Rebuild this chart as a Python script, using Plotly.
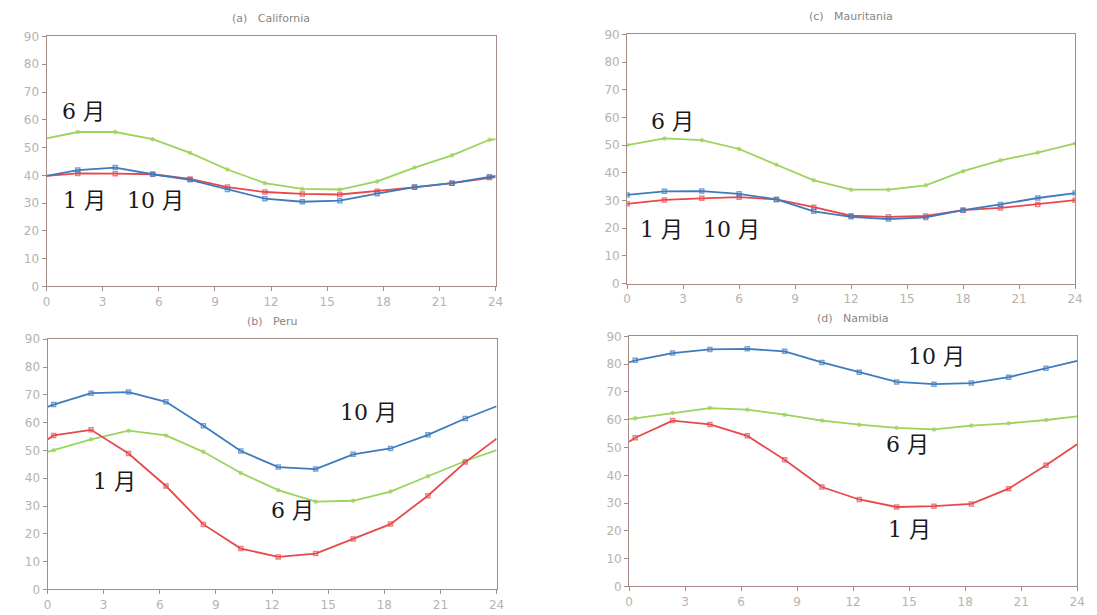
import plotly.graph_objects as go

# Hour positions (local time) of the samples in each region
hours_cal = [0, 1.67, 3.67, 5.67, 7.67, 9.67, 11.67, 13.67, 15.67, 17.67, 19.67, 21.67, 23.67, 24]
hours_mau = [0, 2, 4, 6, 8, 10, 12, 14, 16, 18, 20, 22, 24]
hours_sh = [0, 0.33, 2.33, 4.33, 6.33, 8.33, 10.33, 12.33, 14.33, 16.33, 18.33, 20.33, 22.33, 24]

# (a) California
cal_jan = [39.8, 40.7, 40.6, 40.4, 38.7, 35.8, 34.0, 33.3, 33.1, 34.3, 35.7, 37.2, 39.2, 39.4]
cal_jun = [53.3, 55.6, 55.6, 53.0, 48.1, 42.1, 37.2, 35.1, 34.9, 37.8, 42.8, 47.2, 52.8, 53.0]
cal_oct = [39.8, 41.9, 42.8, 40.4, 38.4, 34.9, 31.6, 30.5, 30.9, 33.4, 35.8, 37.2, 39.5, 39.8]

# (c) Mauritania
mau_jan = [28.8, 30.2, 30.8, 31.2, 30.4, 27.6, 24.5, 24.1, 24.4, 26.5, 27.3, 28.6, 30.1]
mau_jun = [50.0, 52.4, 51.8, 48.6, 42.9, 37.3, 33.9, 33.9, 35.5, 40.6, 44.5, 47.3, 50.6]
mau_oct = [32.0, 33.3, 33.4, 32.4, 30.4, 26.1, 24.1, 23.3, 23.9, 26.5, 28.6, 30.9, 32.7]

# (b) Peru
peru_jan = [53.9, 55.4, 57.4, 48.9, 37.2, 23.4, 14.7, 11.7, 12.9, 18.1, 23.5, 33.7, 45.8, 54.2]
peru_jun = [49.5, 50.1, 54.0, 57.1, 55.4, 49.5, 41.9, 35.7, 31.6, 31.9, 35.2, 40.7, 46.2, 50.1]
peru_oct = [65.7, 66.5, 70.6, 71.0, 67.5, 58.9, 49.8, 44.0, 43.3, 48.6, 50.7, 55.6, 61.5, 65.9]

# (d) Namibia
nam_jan = [52.1, 53.5, 59.7, 58.3, 54.2, 45.6, 35.8, 31.3, 28.6, 28.9, 29.7, 35.2, 43.6, 51.2]
nam_jun = [60.3, 60.5, 62.4, 64.2, 63.6, 61.8, 59.7, 58.2, 57.1, 56.5, 57.9, 58.7, 59.9, 61.2]
nam_oct = [80.6, 81.4, 84.0, 85.3, 85.5, 84.6, 80.6, 77.1, 73.6, 72.8, 73.2, 75.3, 78.5, 81.2]

x_ticks = [0, 3, 6, 9, 12, 15, 18, 21, 24]
y_ticks = [0, 10, 20, 30, 40, 50, 60, 70, 80, 90]

RED = "#e8484b"
GREEN = "#9bd45c"
BLUE = "#3d7bbf"

panels = [
    # key, title, x, jan, jun, oct, x-domain, y-domain, edge points without marker
    ("", "(a)   California", hours_cal, cal_jan, cal_jun, cal_oct,
     [0.0392, 0.4531], [0.535, 0.951], True),
    ("2", "(c)   Mauritania", hours_mau, mau_jan, mau_jun, mau_oct,
     [0.5743, 0.9872], [0.5398, 0.9545], False),
    ("3", "(b)   Peru", hours_sh, peru_jan, peru_jun, peru_oct,
     [0.0401, 0.4540], [0.0309, 0.4472], True),
    ("4", "(d)   Namibia", hours_sh, nam_jan, nam_jun, nam_oct,
     [0.5761, 0.9891], [0.0358, 0.4520], True),
]

fig = go.Figure()
layout = {}
annotations = []

for key, title, xs, jan, jun, octo, xd, yd, bare_ends in panels:
    n = len(xs)
    if bare_ends:
        sq = [0] + [4] * (n - 2) + [0]
        dot = [0] + [3] * (n - 2) + [0]
    else:
        sq = [4] * n
        dot = [3] * n
    xa = "x" + key
    ya = "y" + key
    for ys, color, sym, size in [
        (jun, GREEN, "circle", dot),
        (jan, RED, "square-open", sq),
        (octo, BLUE, "square-open", sq),
    ]:
        fig.add_trace(go.Scatter(
            x=xs, y=ys, xaxis=xa, yaxis=ya, mode="lines+markers",
            line=dict(color=color, width=1.8),
            marker=dict(symbol=sym, size=size, color=color, line=dict(width=1.5, color=color)),
            showlegend=False, hoverinfo="skip",
        ))
    axis_common = dict(
        showgrid=False, zeroline=False, showline=True, mirror=True,
        linecolor="#a88a86", linewidth=1, ticks="outside", ticklen=4,
        tickcolor="#a88a86", tickfont=dict(family="DejaVu Sans", size=12, color="#b8b2b0"),
        fixedrange=True,
    )
    layout["xaxis" + key] = dict(axis_common, domain=xd, range=[0, 24], tickvals=x_ticks,
                                 anchor=ya, ticklabelstandoff=0)
    layout["yaxis" + key] = dict(axis_common, domain=yd, range=[0, 90], tickvals=y_ticks,
                                 anchor=xa)
    annotations.append(dict(
        text=title, xref="paper", yref="paper", x=(xd[0] + xd[1]) / 2, y=yd[1] + 0.016,
        xanchor="center", yanchor="bottom", showarrow=False,
        font=dict(family="DejaVu Sans", size=11, color="#8a8482"),
    ))

# Month labels placed in each panel's data coordinates
month_labels = [
    ("", 0.74, 62.9, "6 月"), ("", 0.79, 30.9, "1 月"), ("", 4.18, 30.9, "10 月"),
    ("2", 1.17, 58.6, "6 月"), ("2", 0.58, 19.4, "1 月"), ("2", 3.97, 19.4, "10 月"),
    ("3", 15.54, 63.6, "10 月"), ("3", 2.33, 39.0, "1 月"), ("3", 11.84, 28.5, "6 月"),
    ("4", 14.83, 82.6, "10 月"), ("4", 13.67, 51.0, "6 月"), ("4", 13.78, 20.4, "1 月"),
]
for key, x, y, txt in month_labels:
    annotations.append(dict(
        text=txt, xref="x" + key, yref="y" + key, x=x, y=y, xanchor="left", yanchor="middle",
        showarrow=False,
        font=dict(family="DejaVu Serif, Noto Sans CJK SC", size=22, color="#1a1a1a"),
    ))

fig.update_layout(
    width=1097, height=615, margin=dict(l=0, r=0, t=0, b=0),
    paper_bgcolor="white", plot_bgcolor="white",
    annotations=annotations, **layout,
)

fig.write_html("out.html")
